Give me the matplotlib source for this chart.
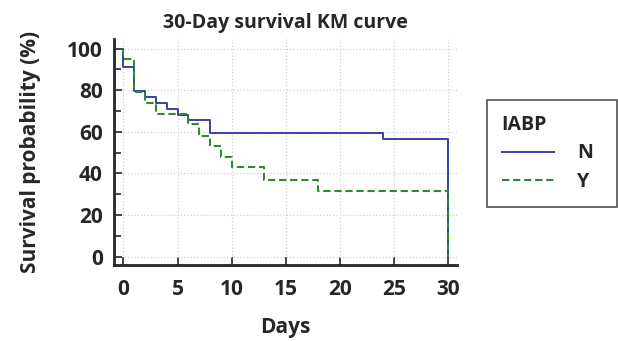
import numpy as np
import matplotlib.pyplot as plt
from matplotlib.ticker import MultipleLocator

jours_n = [0, 0, 1, 2, 3, 4, 5, 6, 8, 24, 30]
survie_n = [100, 91, 79.5, 76.7, 74, 71, 68.2, 65.7, 59.4, 56.6, 0]

jours_y = [0, 0, 1, 2, 3, 6, 7, 8, 9, 10, 13, 18, 30]
survie_y = [100, 94.8, 79, 73.8, 68.6, 63.8, 58.2, 53.1, 47.9, 42.9, 37, 31.7, 0]

x_ticks = [0, 5, 10, 15, 20, 25, 30]
y_ticks = [0, 20, 40, 60, 80, 100]

plt.rcParams['font.family'] = ['Open Sans', 'DejaVu Sans']
plt.rcParams['font.weight'] = 'bold'
fonce = '#262626'

fig = plt.figure(figsize=(6.18, 3.41), dpi=100)
ax = fig.add_axes([0.1845, 0.2229, 0.555, 0.662])

ax.plot(jours_n, survie_n, drawstyle='steps-post', color='#3b3fa3', lw=1.4, label='N')
ax.plot(jours_y, survie_y, drawstyle='steps-post', color='#2f8a2f', lw=1.5,
        linestyle=(0, (3.5, 1.8)), label='Y')

ax.set_xlim(-0.86, 30.8)
ax.set_ylim(-4, 104.5)
ax.set_xticks(x_ticks)
ax.set_yticks(y_ticks)
ax.yaxis.set_minor_locator(MultipleLocator(10))

ax.grid(True, which='major', color='#d0d0d0', linestyle=':', lw=0.9)
for s in ['top', 'right']:
    ax.spines[s].set_visible(False)
for s in ['left', 'bottom']:
    ax.spines[s].set_linewidth(2)
    ax.spines[s].set_color(fonce)

ax.tick_params(which='major', direction='in', length=6, width=1.2, color=fonce,
               labelsize=15, labelcolor=fonce)
ax.tick_params(axis='x', pad=10)
ax.tick_params(axis='y', pad=8)
ax.tick_params(which='minor', direction='in', length=5, width=1.2, color=fonce)

ax.set_title("30-Day survival KM curve", fontsize=14, fontweight='bold', color=fonce, pad=8)
ax.set_xlabel("Days", fontsize=15, fontweight='bold', color=fonce, labelpad=12)
ax.set_ylabel("Survival probability (%)", fontsize=15, fontweight='bold', color=fonce, labelpad=19)

# Légende dans un cadre à droite du graphique
leg = fig.legend(loc='upper left', mode='expand',
                 bbox_to_anchor=(487/618, 1-204/341, 130/618, 104/341),
                 title='IABP', frameon=True, fancybox=False, edgecolor=fonce,
                 handlelength=2.67, handletextpad=1.2, borderpad=0.75,
                 labelspacing=0.45, borderaxespad=0,
                 prop={'size': 14, 'weight': 'bold'},
                 title_fontproperties={'size': 14, 'weight': 'bold'})
leg._legend_box.align = 'left'
leg.get_frame().set_linewidth(1.2)
for t in leg.get_texts():
    t.set_color(fonce)
leg.get_title().set_color(fonce)

fig.savefig("out.png", dpi=100)
